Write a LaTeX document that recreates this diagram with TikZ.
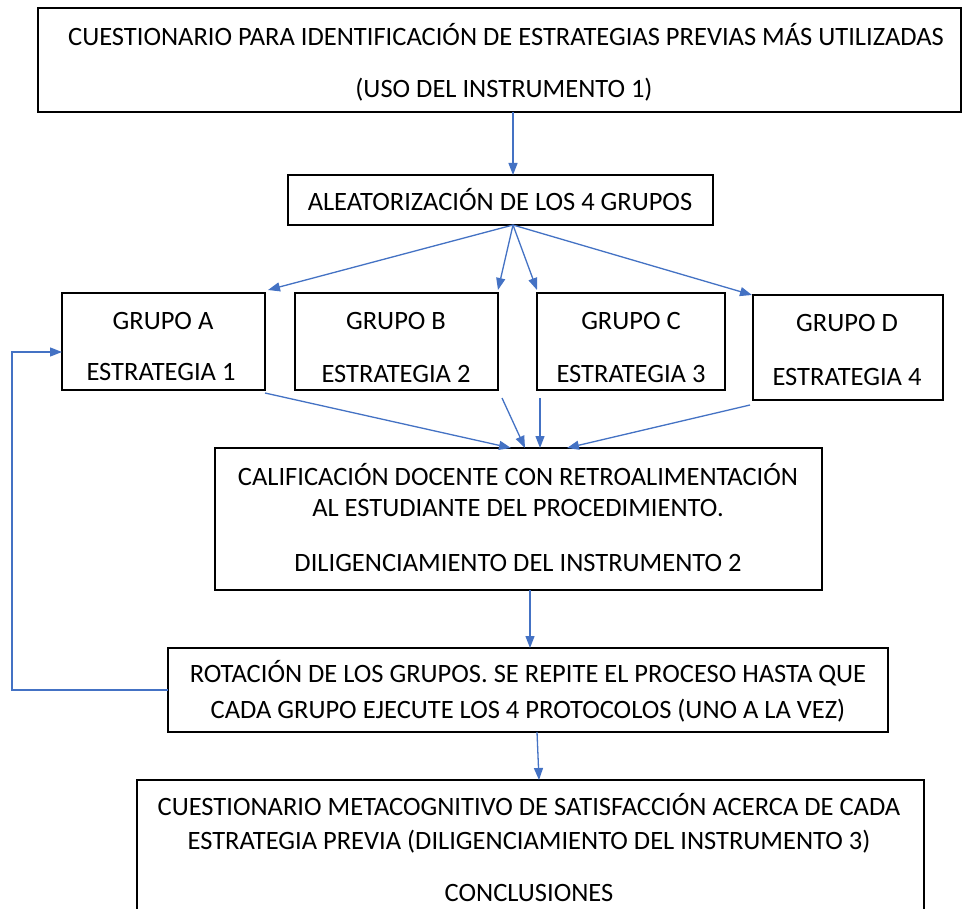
\documentclass[tikz,border=0pt]{standalone}
\usepackage{fontspec}
\setmainfont{Carlito}
\usetikzlibrary{arrows.meta}
\definecolor{arrowblue}{HTML}{4472C4}
\begin{document}
\begin{tikzpicture}[x=1pt,y=-1pt,
  box/.style={draw=black,line width=1.5pt,inner sep=0pt,outer sep=0pt,anchor=north west},
  txt/.style={inner sep=0pt,font=\fontsize{26.5}{30}\selectfont},
  flow/.style={draw=arrowblue,line width=1.3pt,-{Triangle[length=12pt,width=9pt]}}]
\clip (0,0) rectangle (963,909);
\fill[white] (0,0) rectangle (963,909);
% boxes
\node[box,minimum width=923,minimum height=104] (b1) at (38,8) {};
\node[box,minimum width=425,minimum height=50] (b2) at (288,175) {};
\node[box,minimum width=203,minimum height=97] (ga) at (62,293) {};
\node[box,minimum width=203,minimum height=97] (gb) at (295,293) {};
\node[box,minimum width=188,minimum height=97] (gc) at (537,293) {};
\node[box,minimum width=190,minimum height=105] (gd) at (753,295) {};
\node[box,minimum width=607,minimum height=142] (b3) at (215,448) {};
\node[box,minimum width=720,minimum height=84] (b4) at (168,648) {};
\node[box,minimum width=787,minimum height=160] (b5) at (137,780) {};
% texts
\node[txt] (t1a) at (506,35) {CUESTIONARIO PARA IDENTIFICACIÓN DE ESTRATEGIAS PREVIAS MÁS UTILIZADAS};
\node[txt] (t1b) at (504,90) {(USO DEL INSTRUMENTO 1)};
\node[txt] (t2) at (500,200) {ALEATORIZACIÓN DE LOS 4 GRUPOS};
\node[txt] (tga1) at (163,321) {GRUPO A};
\node[txt] (tga2) at (161,372) {ESTRATEGIA 1};
\node[txt] (tgb1) at (396,321) {GRUPO B};
\node[txt] (tgb2) at (396,374) {ESTRATEGIA 2};
\node[txt] (tgc1) at (631,321) {GRUPO C};
\node[txt] (tgc2) at (631,374) {ESTRATEGIA 3};
\node[txt] (tgd1) at (847,323) {GRUPO D};
\node[txt] (tgd2) at (847,377) {ESTRATEGIA 4};
\node[txt] (t3a) at (518,475) {CALIFICACIÓN DOCENTE CON RETROALIMENTACIÓN};
\node[txt] (t3b) at (518,508) {AL ESTUDIANTE DEL PROCEDIMIENTO.};
\node[txt] (t3c) at (518,563) {DILIGENCIAMIENTO DEL INSTRUMENTO 2};
\node[txt] (t4a) at (528,673) {ROTACIÓN DE LOS GRUPOS. SE REPITE EL PROCESO HASTA QUE};
\node[txt] (t4b) at (528,711) {CADA GRUPO EJECUTE LOS 4 PROTOCOLOS (UNO A LA VEZ)};
\node[txt] (t5a) at (529,805) {CUESTIONARIO METACOGNITIVO DE SATISFACCIÓN ACERCA DE CADA};
\node[txt] (t5b) at (529,842) {ESTRATEGIA PREVIA (DILIGENCIAMIENTO DEL INSTRUMENTO 3)};
\node[txt] (t5c) at (529,893) {CONCLUSIONES};
% connectors
\coordinate (src) at (513,225);
\coordinate (loopa) at (12,690);
\coordinate (loopb) at (12,352);
\draw[flow] (b1.south -| src) -- (b2.north -| src);
\draw[flow] (src) -- ([xshift=3pt,yshift=3pt]ga.north east);
\draw[flow] (src) -- ([yshift=3pt]gb.north east);
\draw[flow] (src) -- ([yshift=3pt]gc.north west);
\draw[flow] (src) -- ([xshift=-1pt]gd.north west);
\draw[flow] ([yshift=-3pt]ga.south east) -- ([xshift=-2pt]b3.north -| src);
\draw[flow] ([xshift=4pt,yshift=-8pt]gb.south east) -- ([xshift=12pt]b3.north -| src);
\draw[flow] ([xshift=3pt,yshift=-8pt]gc.south west) -- ([xshift=27pt]b3.north -| src);
\draw[flow] ([xshift=-3pt,yshift=-5pt]gd.south west) -- ([xshift=54pt]b3.north -| src);
\draw[flow] ([xshift=11.5pt]b3.south) -- ([xshift=2pt]b4.north);
\draw[flow] ([xshift=9pt]b4.south) -- ([xshift=8.5pt]b5.north);
\draw[flow] (b4.west) -- (loopa) -- (loopb) -- (loopb -| ga.west);
\end{tikzpicture}
\end{document}
